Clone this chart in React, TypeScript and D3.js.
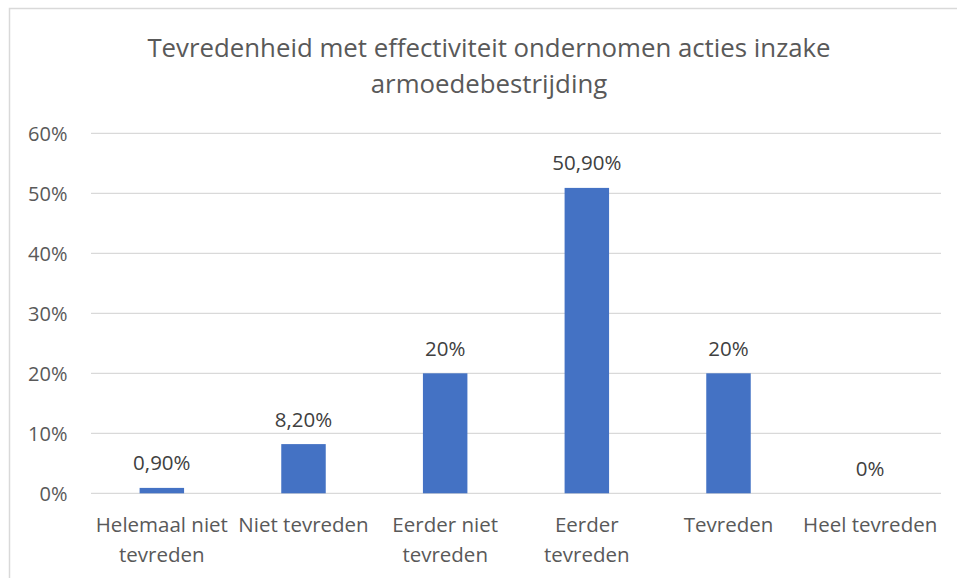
import React, { useEffect, useRef } from "react"
import * as d3 from "d3"

// chart data
const categories = [
  ["Helemaal niet", "tevreden"],
  ["Niet tevreden"],
  ["Eerder niet", "tevreden"],
  ["Eerder", "tevreden"],
  ["Tevreden"],
  ["Heel tevreden"],
]
const values = [0.9, 8.2, 20, 50.9, 20, 0]
const valueLabels = ["0,90%", "8,20%", "20%", "50,90%", "20%", "0%"]
const yTicks = [0, 10, 20, 30, 40, 50, 60]
const titleLines = [
  "Tevredenheid met effectiviteit ondernomen acties inzake",
  "armoedebestrijding",
]

const W = 957
const H = 578
const FONT = "'Open Sans', sans-serif"

const drawChart = (wrapper: SVGSVGElement) => {
  const svg = d3.select(wrapper)
  svg.selectAll("*").remove()

  const left = 91
  const right = 941
  const top = 133.3
  const bottom = 493.3

  // outer chart border (runs past the picture on right and bottom)
  svg
    .append("rect")
    .attr("x", 9.5)
    .attr("y", 8.5)
    .attr("width", W + 20)
    .attr("height", H + 20)
    .attr("fill", "white")
    .attr("stroke", "#d9d9d9")
    .attr("stroke-width", 1.5)

  const x = d3
    .scaleBand<number>()
    .domain(d3.range(categories.length))
    .range([left, right])
    .paddingInner(0.686)
    .paddingOuter(0.343)

  const y = d3.scaleLinear().domain([0, 60]).range([bottom, top])

  // gridlines
  svg
    .selectAll(".grid")
    .data(yTicks)
    .enter()
    .append("line")
    .attr("x1", left)
    .attr("x2", right)
    .attr("y1", d => y(d))
    .attr("y2", d => y(d))
    .attr("stroke", "#d9d9d9")
    .attr("stroke-width", 1.3)

  // y tick labels
  svg
    .selectAll(".ytick")
    .data(yTicks)
    .enter()
    .append("text")
    .attr("x", 67.5)
    .attr("y", d => y(d) + 7.5)
    .attr("text-anchor", "end")
    .attr("fill", "#595959")
    .style("font-family", FONT)
    .style("font-size", "20px")
    .text(d => d + "%")

  // bars
  svg
    .selectAll(".bar")
    .data(values)
    .enter()
    .append("rect")
    .attr("x", (_, i) => x(i) as number)
    .attr("width", x.bandwidth())
    .attr("y", d => y(d))
    .attr("height", d => bottom - y(d))
    .attr("fill", "#4472c4")

  // value labels
  svg
    .selectAll(".vlabel")
    .data(values)
    .enter()
    .append("text")
    .attr("x", (_, i) => (x(i) as number) + x.bandwidth() / 2)
    .attr("y", d => y(d) - 17.5)
    .attr("text-anchor", "middle")
    .attr("fill", "#404040")
    .style("font-family", FONT)
    .style("font-size", "20.5px")
    .text((_, i) => valueLabels[i])

  // category labels
  const cat = svg
    .selectAll(".cat")
    .data(categories)
    .enter()
    .append("text")
    .attr("text-anchor", "middle")
    .attr("fill", "#595959")
    .style("font-family", FONT)
    .style("font-size", "20.5px")
  cat
    .selectAll("tspan")
    .data((d, i) => d.map(line => ({ line, i })))
    .enter()
    .append("tspan")
    .attr("x", d => (x(d.i) as number) + x.bandwidth() / 2)
    .attr("y", (_, j) => 532 + j * 29.7)
    .text(d => d.line)

  // title
  svg
    .selectAll(".title")
    .data(titleLines)
    .enter()
    .append("text")
    .attr("x", 489)
    .attr("y", (_, i) => 56.7 + i * 36.3)
    .attr("text-anchor", "middle")
    .attr("fill", "#595959")
    .style("font-family", FONT)
    .style("font-size", "25.8px")
    .text(d => d)
}

export default function App() {
  const ref = useRef<SVGSVGElement>(null)
  useEffect(() => {
    if (ref.current) drawChart(ref.current)
  }, [])
  return (
    <svg
      ref={ref}
      width={W}
      height={H}
      style={{ position: "absolute", left: 0, top: 0 }}
    ></svg>
  )
}
